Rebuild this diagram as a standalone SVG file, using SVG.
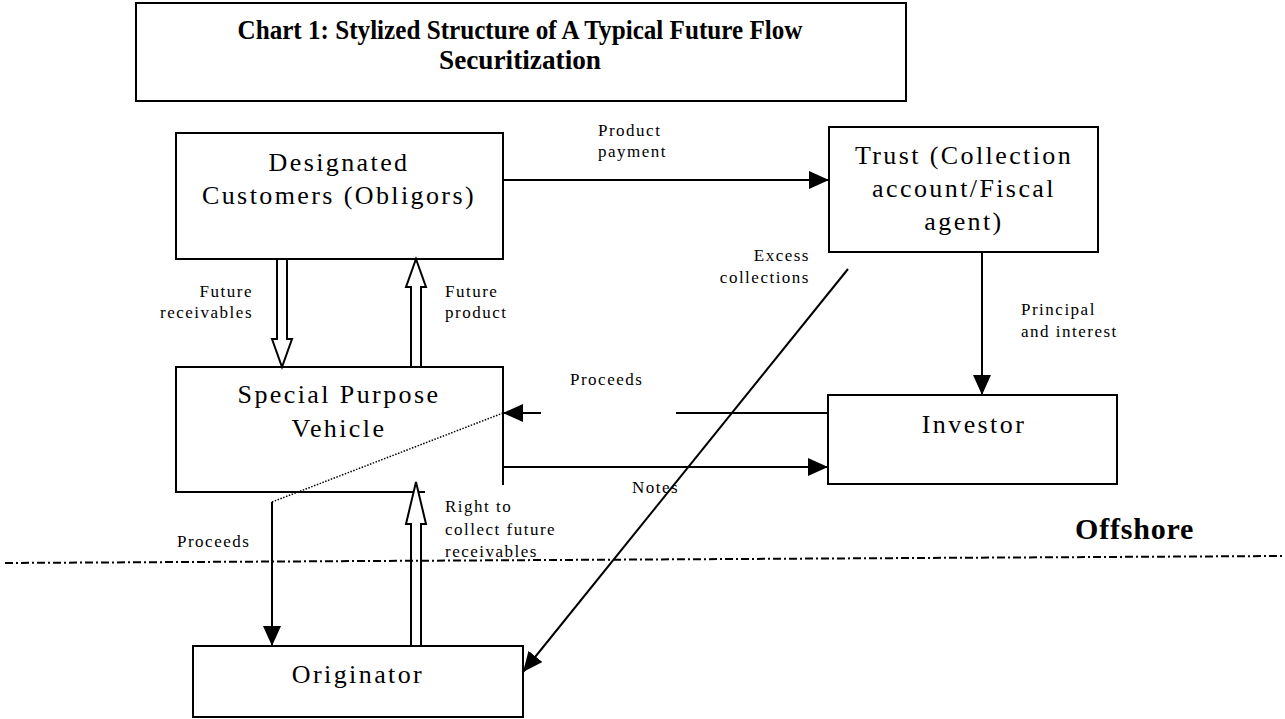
<svg xmlns="http://www.w3.org/2000/svg" width="1285" height="719" viewBox="0 0 1285 719">
<style>
.box{fill:#fff;stroke:#000;stroke-width:2}
.node{font-family:"Liberation Serif","Times New Roman",serif;font-size:26px;letter-spacing:2.4px;fill:#000;text-anchor:middle}
.lbl{font-family:"Liberation Serif","Times New Roman",serif;font-size:17px;letter-spacing:1.5px;fill:#000}
.end{text-anchor:end}
.title{font-family:"Liberation Serif","Times New Roman",serif;font-size:27px;font-weight:bold;fill:#000;text-anchor:middle}
.ln{fill:none;stroke:#000;stroke-width:2}
.hollow{fill:#fff;stroke:#000;stroke-width:2;stroke-linejoin:miter}
</style>
<defs>
<marker id="ah" markerUnits="userSpaceOnUse" markerWidth="20" markerHeight="18" refX="20" refY="9" orient="auto" viewBox="0 0 20 18">
<path d="M0,0 L20,9 L0,18 z" fill="#000"/>
</marker>
</defs>
<rect width="1285" height="719" fill="#fff"/>

<g id="title">
<rect class="box" x="136" y="3" width="770" height="98"/>
<text class="title" x="520" y="39" textLength="565" lengthAdjust="spacingAndGlyphs">Chart 1: Stylized Structure of A Typical Future Flow</text>
<text class="title" x="520" y="69" textLength="162" lengthAdjust="spacingAndGlyphs">Securitization</text>
</g>

<g id="designated">
<rect class="box" x="176" y="133" width="327" height="126"/>
<text class="node" x="339" y="171">Designated</text>
<text class="node" x="339" y="204">Customers (Obligors)</text>
</g>

<g id="trust">
<rect class="box" x="829" y="127" width="269" height="125"/>
<text class="node" x="964" y="164">Trust (Collection</text>
<text class="node" x="964" y="197">account/Fiscal</text>
<text class="node" x="964" y="230">agent)</text>
</g>

<g id="spv">
<path class="ln" d="M503,485 L503,367 L176,367 L176,492 L425,492"/>
<text class="node" x="339" y="403">Special Purpose</text>
<text class="node" x="339" y="437">Vehicle</text>
</g>

<g id="investor">
<rect class="box" x="828" y="395" width="289" height="89"/>
<text class="node" x="974" y="433">Investor</text>
</g>

<g id="originator">
<rect class="box" x="193" y="646" width="330" height="71"/>
<text class="node" x="358" y="683">Originator</text>
</g>

<g id="labels">
<text class="lbl" x="598" y="136">Product</text>
<text class="lbl" x="598" y="157">payment</text>
<text class="lbl end" x="810" y="261">Excess</text>
<text class="lbl end" x="810" y="283">collections</text>
<text class="lbl end" x="253" y="297">Future</text>
<text class="lbl end" x="253" y="318">receivables</text>
<text class="lbl" x="445" y="297">Future</text>
<text class="lbl" x="445" y="318">product</text>
<text class="lbl" x="1021" y="315">Principal</text>
<text class="lbl" x="1021" y="337">and interest</text>
<text class="lbl" x="570" y="385">Proceeds</text>
<text class="lbl" x="632" y="493">Notes</text>
<text class="lbl" x="445" y="512">Right to</text>
<text class="lbl" x="445" y="535">collect future</text>
<text class="lbl" x="445" y="557">receivables</text>
<text class="lbl" x="177" y="547">Proceeds</text>
<text x="1075" y="539" font-family="'Liberation Serif','Times New Roman',serif" font-size="30" font-weight="bold" letter-spacing="0.8">Offshore</text>
</g>

<g id="connectors">
<line class="ln" x1="503" y1="180" x2="829" y2="180" marker-end="url(#ah)"/>
<line class="ln" x1="982" y1="252" x2="982" y2="395" marker-end="url(#ah)"/>
<line class="ln" x1="828" y1="413" x2="676" y2="413"/>
<line class="ln" x1="541" y1="413" x2="503" y2="413" marker-end="url(#ah)"/>
<line class="ln" x1="503" y1="467" x2="828" y2="467" marker-end="url(#ah)"/>
<line class="ln" x1="848" y1="269" x2="523" y2="672" marker-end="url(#ah)"/>
<line x1="272" y1="502" x2="503" y2="413" stroke="#000" stroke-width="1.5" stroke-dasharray="1.5 1.5"/>
<line class="ln" x1="272" y1="502" x2="272" y2="646" marker-end="url(#ah)"/>
<polygon class="hollow" points="277,259 287,259 287,339 292,339 282,367 272,339 277,339"/>
<polygon class="hollow" points="416,259 426,287 421,287 421,367 411,367 411,287 406,287"/>
<polygon class="hollow" points="416,482 426,524 421,524 421,646 411,646 411,524 406,524"/>
<line x1="5" y1="563" x2="1283" y2="556" stroke="#000" stroke-width="2" stroke-dasharray="8 3 2 3"/>
</g>
</svg>
